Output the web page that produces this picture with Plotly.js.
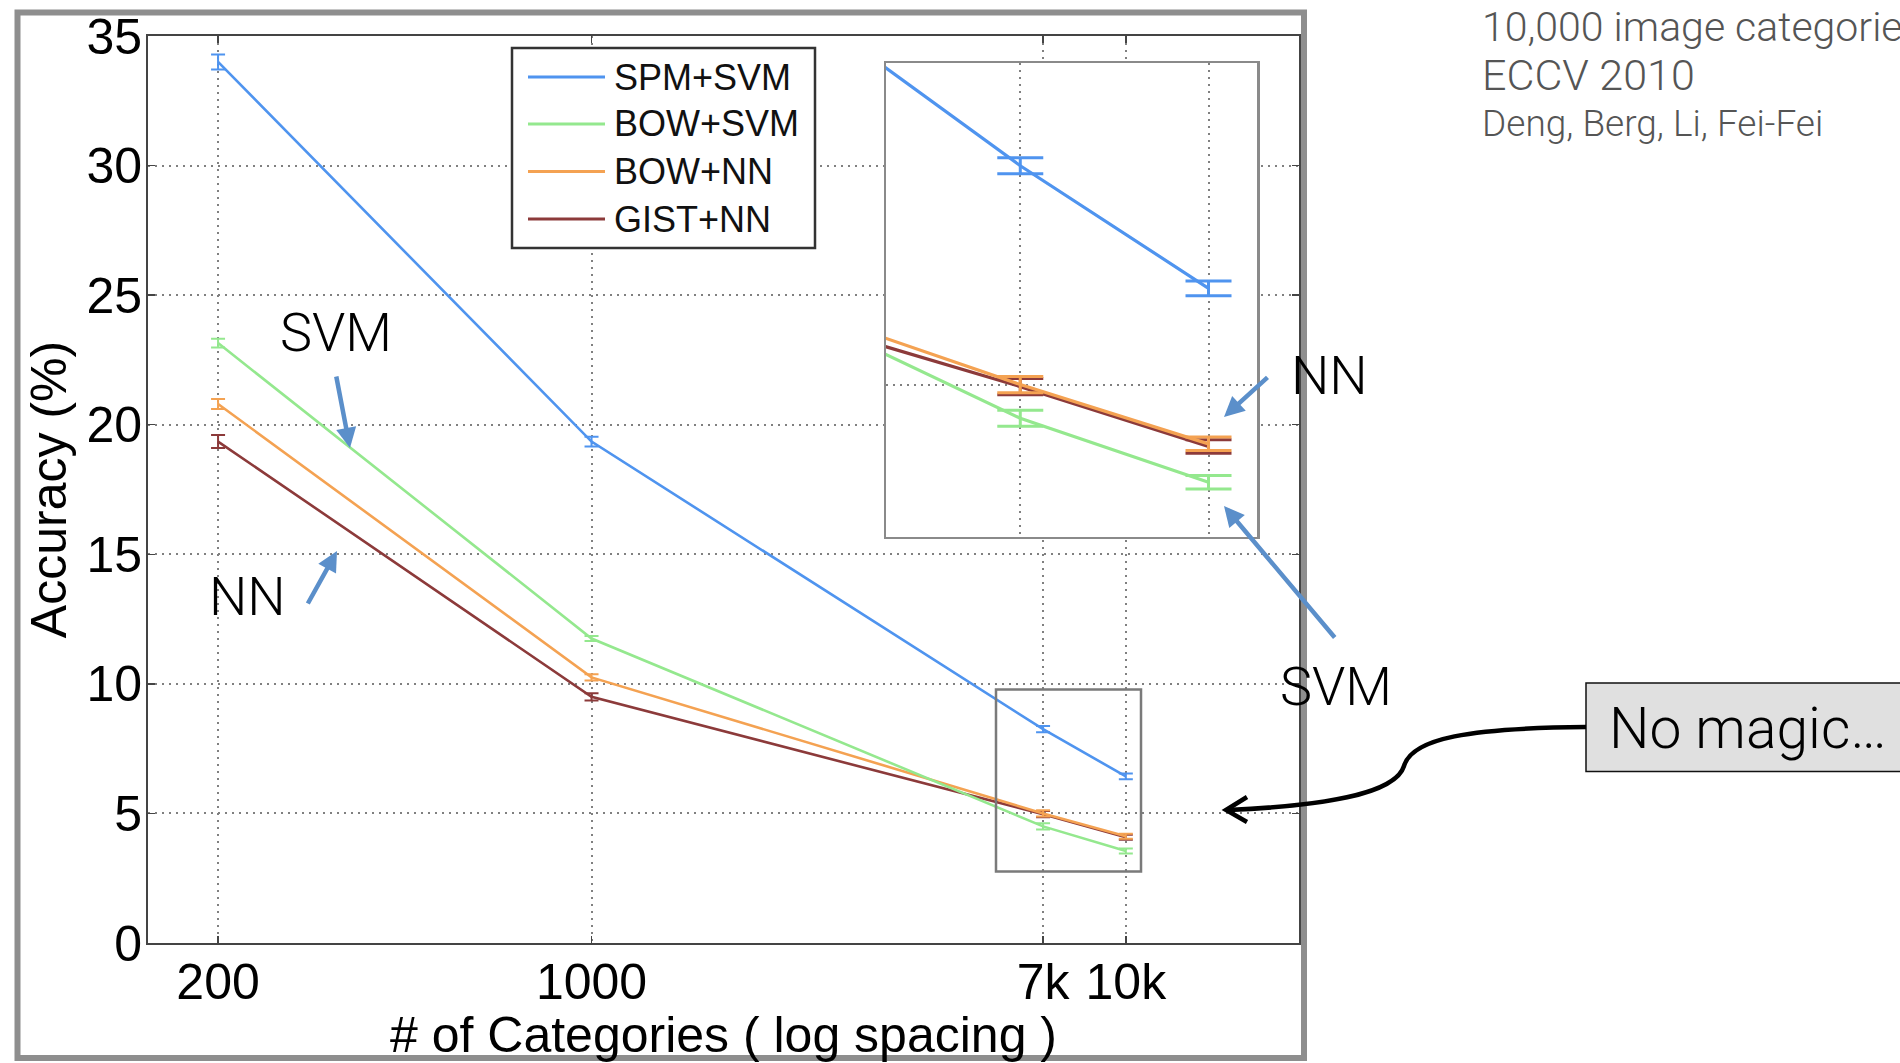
<!DOCTYPE html>
<html>
<head>
<meta charset="utf-8">
<script src="https://cdn.plot.ly/plotly-3.0.1.min.js"></script>
<style>
html, body { margin: 0; padding: 0; background: #ffffff; }
#chart { width: 1900px; height: 1063px; }
</style>
</head>
<body>
<div id="chart"></div>
<script>
// ---------------- data ----------------
const categories = [200, 1000, 7000, 10000];
const tickLabels = ['200', '1000', '7k', '10k'];
const seriesNames = ['SPM+SVM', 'BOW+SVM', 'BOW+NN', 'GIST+NN'];
const spmSvm    = [34.0, 19.35, 8.25, 6.43];
const spmSvmErr = [0.29, 0.19, 0.12, 0.11];
const bowSvm    = [23.15, 11.75, 4.50, 3.55];
const bowSvmErr = [0.17, 0.10, 0.12, 0.10];
const bowNn     = [20.80, 10.25, 5.00, 4.12];
const bowNnErr  = [0.19, 0.12, 0.12, 0.10];
const gistNn    = [19.35, 9.50, 4.97, 4.08];
const gistNnErr = [0.25, 0.14, 0.12, 0.10];
const yTicks = [0, 5, 10, 15, 20, 25, 30, 35];

const seriesValues = [spmSvm, bowSvm, bowNn, gistNn];
const seriesErrors = [spmSvmErr, bowSvmErr, bowNnErr, gistNnErr];
const seriesColors = ['#4f94ef', '#94e88e', '#f4a252', '#8c3a3a'];

// ---------------- geometry helpers (figure pixels -> paper) ----------------
const W = 1900, H = 1063;
const M = { l: 148, r: 601, t: 36, b: 120 };
const PW = W - M.l - M.r;
const PH = H - M.t - M.b;
const px = x => (x - M.l) / PW;
const py = y => (H - M.b - y) / PH;

const FONT = 'Liberation Sans, Arial, sans-serif';
const SLIDE = 'Roboto, Liberation Sans, sans-serif';

// ---------------- traces ----------------
const drawOrder = [3, 2, 1, 0];
const traces = [];
drawOrder.forEach(i => {
  traces.push({
    type: 'scatter', mode: 'lines', name: seriesNames[i],
    x: categories, y: seriesValues[i],
    xaxis: 'x', yaxis: 'y', showlegend: false, hoverinfo: 'skip',
    line: { color: seriesColors[i], width: 2.6 },
    error_y: { type: 'data', array: seriesErrors[i], visible: true,
               color: seriesColors[i], thickness: 2, width: 7 }
  });
});
drawOrder.forEach(i => {
  traces.push({
    type: 'scatter', mode: 'lines', name: seriesNames[i] + ' (zoom)',
    x: categories, y: seriesValues[i],
    xaxis: 'x2', yaxis: 'y2', showlegend: false, hoverinfo: 'skip',
    line: { color: seriesColors[i], width: 3.2 },
    error_y: { type: 'data', array: seriesErrors[i], visible: true,
               color: seriesColors[i], thickness: 3, width: 23 }
  });
});

// ---------------- shapes ----------------
const shapes = [];
// outer screenshot frame
shapes.push({ type: 'rect', xref: 'paper', yref: 'paper',
  x0: px(17.5), x1: px(1304), y0: py(12.5), y1: py(1058),
  line: { color: '#8e8e8e', width: 6 }, layer: 'above' });
// small zoom rectangle
shapes.push({ type: 'rect', xref: 'paper', yref: 'paper',
  x0: px(996), x1: px(1141), y0: py(689.5), y1: py(871.5),
  line: { color: '#7a7a7a', width: 2.5 }, layer: 'above' });
// custom legend box
const legBox = { x0: 512, x1: 815, y0: 48, y1: 248 };
shapes.push({ type: 'rect', xref: 'paper', yref: 'paper',
  x0: px(legBox.x0), x1: px(legBox.x1), y0: py(legBox.y0), y1: py(legBox.y1),
  fillcolor: '#ffffff', line: { color: '#333333', width: 2.5 }, layer: 'above' });
const legRows = [77, 124, 171.5, 219];
seriesNames.forEach((n, i) => {
  shapes.push({ type: 'line', xref: 'paper', yref: 'paper',
    x0: px(528), x1: px(605), y0: py(legRows[i]), y1: py(legRows[i]),
    line: { color: seriesColors[i], width: 3 }, layer: 'above' });
});
// "No magic..." box
shapes.push({ type: 'rect', xref: 'paper', yref: 'paper',
  x0: px(1586), x1: px(1915), y0: py(683), y1: py(771.5),
  fillcolor: '#e0e0e0', line: { color: '#111111', width: 1.5 }, layer: 'above' });
// curved connector
const P = (x, y) => px(x).toFixed(5) + ',' + py(y).toFixed(5);
shapes.push({ type: 'path', xref: 'paper', yref: 'paper',
  path: 'M ' + P(1586, 727) + ' C ' + P(1470, 728) + ' ' + P(1412, 738) + ' ' + P(1404, 766) +
        ' C ' + P(1395, 795) + ' ' + P(1320, 806) + ' ' + P(1228, 810),
  line: { color: '#000000', width: 4.5 }, layer: 'above' });
shapes.push({ type: 'path', xref: 'paper', yref: 'paper',
  path: 'M ' + P(1247, 797) + ' L ' + P(1226, 810) + ' L ' + P(1247, 822),
  line: { color: '#000000', width: 4.5 }, layer: 'above' });

// ---------------- annotations ----------------
const annotations = [];
seriesNames.forEach((n, i) => {
  annotations.push({ xref: 'paper', yref: 'paper', x: px(612), y: py(legRows[i]),
    xanchor: 'left', yanchor: 'middle', text: n, showarrow: false,
    font: { family: FONT, size: 36, color: '#111111' } });
});
function label(text, cx, cy, size) {
  annotations.push({ xref: 'paper', yref: 'paper', x: px(cx), y: py(cy),
    xanchor: 'center', yanchor: 'middle', text: text, showarrow: false,
    font: { family: SLIDE, size: size, color: '#000000', weight: 300 } });
}
label('SVM', 336, 332, 54);
label('NN', 247, 596, 54);
label('NN', 1329, 375, 54);
label('SVM', 1336, 686, 54);
function arrow(tx, ty, hx, hy) {
  annotations.push({ xref: 'paper', yref: 'paper', x: px(hx), y: py(hy),
    axref: 'pixel', ayref: 'pixel', ax: tx - hx, ay: ty - hy,
    text: '', showarrow: true, arrowhead: 2, arrowsize: 0.9, arrowwidth: 4.5,
    arrowcolor: '#5b8fca', standoff: 0, startstandoff: 0 });
}
arrow(336, 375, 350, 448);
arrow(307, 605, 337, 551);
arrow(1269, 376, 1224, 417);
arrow(1336, 639, 1224, 506);
annotations.push({ xref: 'paper', yref: 'paper', x: px(1607), y: py(728),
  xanchor: 'left', yanchor: 'middle', text: 'No magic…', showarrow: false,
  font: { family: SLIDE, size: 57, color: '#000000', weight: 300 } });
annotations.push({ xref: 'paper', yref: 'paper', x: px(1480), y: py(27),
  xanchor: 'left', yanchor: 'middle', text: '10,000 image categories', showarrow: false,
  font: { family: SLIDE, size: 41, color: '#555555', weight: 300 } });
annotations.push({ xref: 'paper', yref: 'paper', x: px(1480), y: py(75),
  xanchor: 'left', yanchor: 'middle', text: 'ECCV 2010', showarrow: false,
  font: { family: SLIDE, size: 43, color: '#555555', weight: 300 } });
annotations.push({ xref: 'paper', yref: 'paper', x: px(1480), y: py(124),
  xanchor: 'left', yanchor: 'middle', text: 'Deng, Berg, Li, Fei-Fei', showarrow: false,
  font: { family: SLIDE, size: 37, color: '#555555', weight: 300 } });

// ---------------- layout ----------------
const gridStyle = { showgrid: true, gridcolor: '#808080', griddash: '2px,5px', gridwidth: 2 };
const layout = {
  width: W, height: H,
  margin: { l: M.l, r: M.r, t: M.t, b: M.b, pad: 0 },
  paper_bgcolor: '#ffffff', plot_bgcolor: '#ffffff',
  showlegend: false,
  xaxis: Object.assign({
    type: 'log', range: [2.1699, 4.3241],
    tickmode: 'array', tickvals: categories, ticktext: tickLabels,
    showline: true, linecolor: '#444444', linewidth: 2, mirror: 'ticks',
    ticks: 'inside', ticklen: 7, tickcolor: '#444444', tickwidth: 1.5,
    ticklabelstandoff: -6,
    zeroline: false,
    tickfont: { family: FONT, size: 50, color: '#000000' },
    title: { text: '# of Categories ( log spacing )', standoff: 2,
             font: { family: FONT, size: 50, color: '#000000' } }
  }, gridStyle),
  yaxis: Object.assign({
    range: [0, 35], tickmode: 'array', tickvals: yTicks,
    showline: true, linecolor: '#444444', linewidth: 2, mirror: 'ticks',
    ticks: 'inside', ticklen: 7, tickcolor: '#444444', tickwidth: 1.5,
    ticklabelstandoff: -6,
    zeroline: false,
    tickfont: { family: FONT, size: 50, color: '#000000' },
    title: { text: 'Accuracy (%)', standoff: 4,
             font: { family: FONT, size: 50, color: '#000000' } }
  }, gridStyle),
  xaxis2: Object.assign({
    type: 'log', range: [3.7346, 4.0399], domain: [px(886), px(1257)], anchor: 'y2',
    tickmode: 'array', tickvals: categories, showticklabels: false, ticks: '',
    showline: true, linecolor: '#8a8a8a', linewidth: 2.5, mirror: true, zeroline: false
  }, gridStyle),
  yaxis2: Object.assign({
    range: [2.744, 9.776], domain: [py(536.5), py(63)], anchor: 'x2',
    tickmode: 'array', tickvals: yTicks, showticklabels: false, ticks: '',
    showline: true, linecolor: '#8a8a8a', linewidth: 2.5, mirror: true, zeroline: false
  }, gridStyle),
  shapes: shapes,
  annotations: annotations
};

Plotly.newPlot('chart', traces, layout, { displayModeBar: false, staticPlot: true });
</script>
</body>
</html>
